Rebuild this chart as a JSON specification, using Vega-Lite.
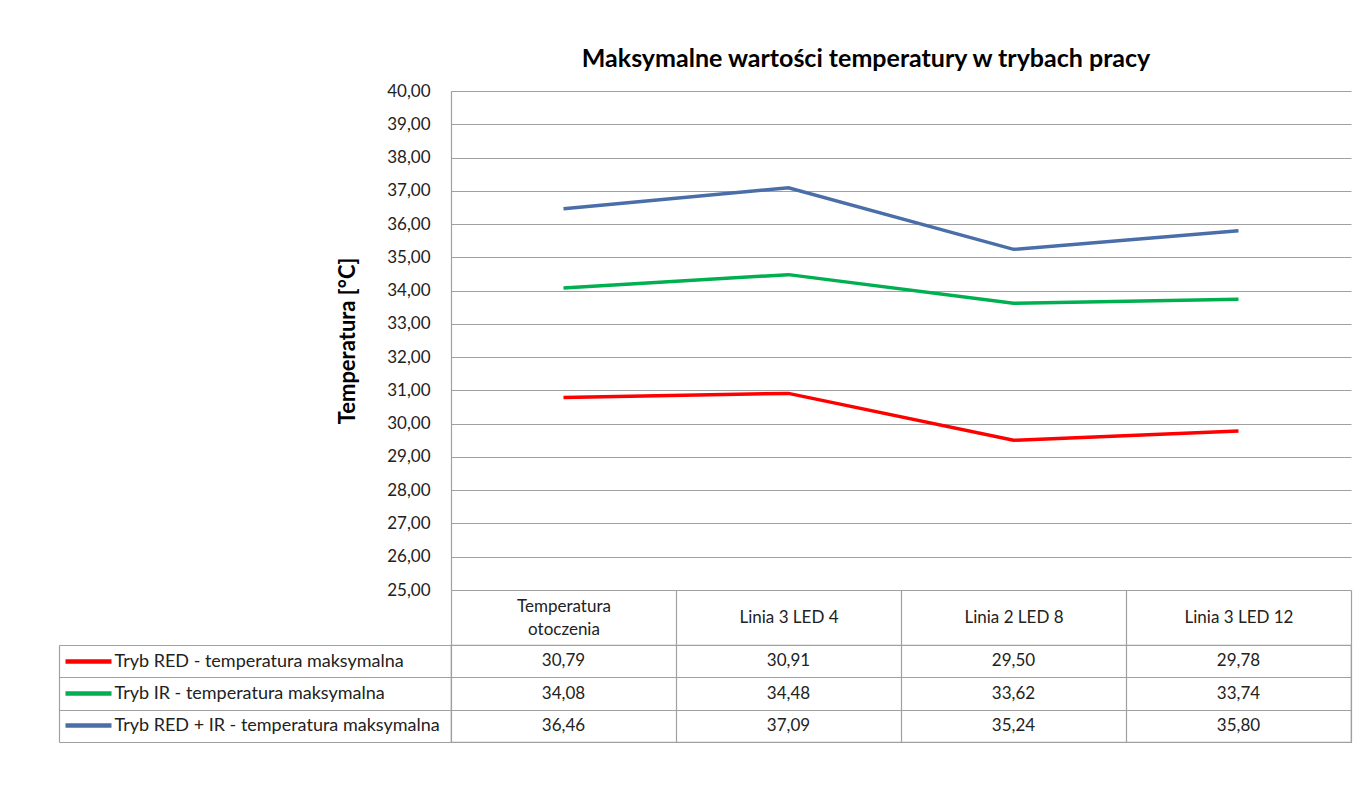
{
  "$schema": "https://vega.github.io/schema/vega-lite/v6.json",
  "background": "white",
  "padding": {"left": 57, "top": 47, "right": 18, "bottom": 10},
  "autosize": {"type": "pad"},
  "config": {
    "font": "Lato",
    "locale": {"number": {"decimal": ",", "thousands": " ", "grouping": [3], "currency": ["", " zł"]}},
    "axis": {"labelFont": "Lato", "titleFont": "Lato"}
  },
  "datasets": {
    "pomiary": [
      {"seria": "Tryb RED - temperatura maksymalna", "kategoria": "Temperatura otoczenia", "temp": 30.79},
      {"seria": "Tryb RED - temperatura maksymalna", "kategoria": "Linia 3 LED 4", "temp": 30.91},
      {"seria": "Tryb RED - temperatura maksymalna", "kategoria": "Linia 2 LED 8", "temp": 29.50},
      {"seria": "Tryb RED - temperatura maksymalna", "kategoria": "Linia 3 LED 12", "temp": 29.78},
      {"seria": "Tryb IR - temperatura maksymalna", "kategoria": "Temperatura otoczenia", "temp": 34.08},
      {"seria": "Tryb IR - temperatura maksymalna", "kategoria": "Linia 3 LED 4", "temp": 34.48},
      {"seria": "Tryb IR - temperatura maksymalna", "kategoria": "Linia 2 LED 8", "temp": 33.62},
      {"seria": "Tryb IR - temperatura maksymalna", "kategoria": "Linia 3 LED 12", "temp": 33.74},
      {"seria": "Tryb RED + IR - temperatura maksymalna", "kategoria": "Temperatura otoczenia", "temp": 36.46},
      {"seria": "Tryb RED + IR - temperatura maksymalna", "kategoria": "Linia 3 LED 4", "temp": 37.09},
      {"seria": "Tryb RED + IR - temperatura maksymalna", "kategoria": "Linia 2 LED 8", "temp": 35.24},
      {"seria": "Tryb RED + IR - temperatura maksymalna", "kategoria": "Linia 3 LED 12", "temp": 35.80}
    ]
  },
  "spacing": 55,
  "bounds": "flush",
  "vconcat": [
    {
      "width": 900,
      "height": 499,
      "view": {"stroke": null},
      "title": {
        "text": "Maksymalne wartości temperatury w trybach pracy",
        "fontSize": 25,
        "fontWeight": "bold",
        "color": "#000000",
        "anchor": "middle",
        "frame": "group",
        "dx": -35,
        "offset": 10
      },
      "data": {"name": "pomiary"},
      "mark": {"type": "line", "strokeWidth": 3.5},
      "encoding": {
        "x": {
          "field": "kategoria",
          "type": "nominal",
          "sort": ["Temperatura otoczenia", "Linia 3 LED 4", "Linia 2 LED 8", "Linia 3 LED 12"],
          "scale": {"type": "band", "paddingInner": 0, "paddingOuter": 0},
          "bandPosition": 0.5,
          "axis": {
            "title": null,
            "orient": "bottom",
            "domain": false,
            "grid": false,
            "ticks": true,
            "tickBand": "extent",
            "tickSize": 55,
            "tickColor": "#a0a0a0",
            "tickWidth": 1.2,
            "labelAngle": 0,
            "labelBaseline": "middle",
            "labelPadding": {"condition": {"test": "datum.value === 'Temperatura otoczenia'", "value": -39}, "value": -28},
            "labelFontSize": 17,
            "labelColor": "#222222",
            "labelLimit": 0,
            "labelLineHeight": 23,
            "labelExpr": "datum.value === 'Temperatura otoczenia' ? ['Temperatura', 'otoczenia'] : datum.value"
          }
        },
        "y": {
          "field": "temp",
          "type": "quantitative",
          "scale": {"domain": [25, 40], "nice": false, "zero": false},
          "axis": {
            "values": [25, 26, 27, 28, 29, 30, 31, 32, 33, 34, 35, 36, 37, 38, 39, 40],
            "format": ".2f",
            "title": "Temperatura [°C]",
            "titleFontSize": 22,
            "titleFontWeight": "bold",
            "titleColor": "#000000",
            "titlePadding": 27,
            "labelFontSize": 17,
            "labelColor": "#222222",
            "labelPadding": 21,
            "ticks": false,
            "domain": true,
            "domainColor": "#a0a0a0",
            "domainWidth": 1.2,
            "grid": true,
            "gridColor": "#a0a0a0",
            "gridWidth": 1.2
          }
        },
        "color": {
          "field": "seria",
          "type": "nominal",
          "scale": {
            "domain": ["Tryb RED - temperatura maksymalna", "Tryb IR - temperatura maksymalna", "Tryb RED + IR - temperatura maksymalna"],
            "range": ["#ff0000", "#00b050", "#4a6ea8"]
          },
          "legend": null
        }
      }
    },
    {
      "width": 900,
      "height": 97,
      "view": {"stroke": "#a0a0a0", "strokeWidth": 1.2},
      "data": {"name": "pomiary"},
      "resolve": {"axis": {"y": "independent"}},
      "layer": [
        {
          "mark": {"type": "text", "fontSize": 17, "color": "#222222", "baseline": "middle"},
          "encoding": {
            "x": {
              "field": "kategoria",
              "type": "nominal",
              "sort": ["Temperatura otoczenia", "Linia 3 LED 4", "Linia 2 LED 8", "Linia 3 LED 12"],
              "scale": {"type": "band", "paddingInner": 0, "paddingOuter": 0},
              "axis": {
                "title": null,
                "orient": "bottom",
                "labels": false,
                "ticks": false,
                "domain": false,
                "grid": true,
                "tickBand": "extent",
                "gridColor": "#a0a0a0",
                "gridWidth": 1.2
              }
            },
            "y": {
              "field": "seria",
              "type": "nominal",
              "sort": ["Tryb RED - temperatura maksymalna", "Tryb IR - temperatura maksymalna", "Tryb RED + IR - temperatura maksymalna"],
              "scale": {"type": "band", "paddingInner": 0, "paddingOuter": 0},
              "axis": {
                "title": null,
                "orient": "left",
                "domain": false,
                "ticks": true,
                "tickBand": "extent",
                "tickSize": 392,
                "tickColor": "#a0a0a0",
                "tickWidth": 1.2,
                "grid": true,
                "gridColor": "#a0a0a0",
                "gridWidth": 1.2,
                "labelAlign": "left",
                "labelBaseline": "middle",
                "labelPadding": -55,
                "labelFontSize": 18,
                "labelColor": "#222222",
                "labelLimit": 0
              }
            },
            "text": {"field": "temp", "type": "quantitative", "format": ".2f"}
          }
        },
        {
          "mark": {"type": "point", "opacity": 0},
          "encoding": {
            "y": {
              "field": "seria",
              "type": "nominal",
              "sort": ["Tryb RED - temperatura maksymalna", "Tryb IR - temperatura maksymalna", "Tryb RED + IR - temperatura maksymalna"],
              "scale": {"type": "band", "paddingInner": 0, "paddingOuter": 0},
              "axis": {
                "title": null,
                "orient": "left",
                "offset": 340,
                "domain": false,
                "labels": false,
                "grid": false,
                "ticks": true,
                "tickSize": 46,
                "tickWidth": 4.5,
                "tickCap": "butt",
                "tickColor": {
                  "condition": [
                    {"test": "datum.value === 'Tryb RED - temperatura maksymalna'", "value": "#ff0000"},
                    {"test": "datum.value === 'Tryb IR - temperatura maksymalna'", "value": "#00b050"}
                  ],
                  "value": "#4a6ea8"
                }
              }
            }
          }
        },
        {
          "mark": {"type": "point", "opacity": 0},
          "encoding": {
            "y": {
              "field": "seria",
              "type": "nominal",
              "sort": ["Tryb RED - temperatura maksymalna", "Tryb IR - temperatura maksymalna", "Tryb RED + IR - temperatura maksymalna"],
              "scale": {"type": "band", "paddingInner": 0, "paddingOuter": 0},
              "axis": {
                "title": null,
                "orient": "left",
                "offset": 392,
                "domain": true,
                "domainColor": "#a0a0a0",
                "domainWidth": 1.2,
                "labels": false,
                "grid": false,
                "ticks": false
              }
            }
          }
        }
      ]
    }
  ]
}
